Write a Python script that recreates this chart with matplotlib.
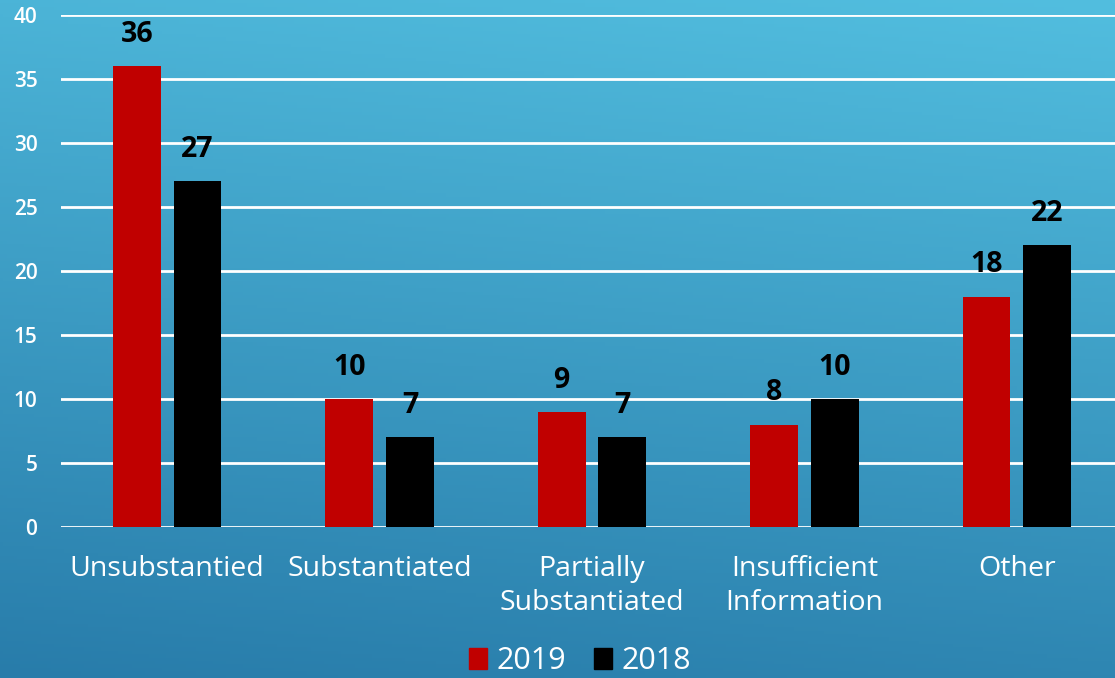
import numpy as np
import matplotlib
matplotlib.use("Agg")
import matplotlib.pyplot as plt
from matplotlib.patches import Patch

categories = ["Unsubstantied", "Substantiated", "Partially\nSubstantiated",
              "Insufficient\nInformation", "Other"]
values_2019 = [36, 10, 9, 8, 18]
values_2018 = [27, 7, 7, 10, 22]
yticks = [0, 5, 10, 15, 20, 25, 30, 35, 40]

plt.rcParams['font.family'] = ['Open Sans', 'DejaVu Sans']

fig = plt.figure(figsize=(11.15, 6.78), dpi=100)

# gradient background
bg = fig.add_axes([0, 0, 1, 1], zorder=0)
h, w = 200, 330
yy, xx = np.mgrid[0:h, 0:w]
t = 0.85 * (yy / (h - 1)) + 0.15 * (1 - xx / (w - 1))
top = np.array([82, 190, 223]) / 255
bot = np.array([40, 124, 170]) / 255
img = top[None, None, :] * (1 - t[..., None]) + bot[None, None, :] * t[..., None]
bg.imshow(img, aspect='auto', extent=[0, 1, 0, 1], origin='upper')
bg.axis('off')

ax = fig.add_axes([61 / 1115, 1 - 527 / 678, 1062 / 1115, (527 - 15) / 678], zorder=1)
ax.patch.set_alpha(0)

x = np.arange(len(categories))
bw = 0.225
off = 0.143
b1 = ax.bar(x - off, values_2019, bw, color='#C00000', zorder=3)
b2 = ax.bar(x + off, values_2018, bw, color='#000000', zorder=3)

for bars, vals in ((b1, values_2019), (b2, values_2018)):
    for r, v in zip(bars, vals):
        ax.text(r.get_x() + r.get_width() / 2, v + 1.35, str(v), ha='center', va='bottom',
                fontsize=20.5, fontweight='bold', color='black')

ax.set_xlim(-0.5, 4.5)
ax.set_ylim(0, 40)
ax.set_yticks(yticks)
ax.set_yticklabels([str(v) for v in yticks], fontsize=15, color='white', fontweight='semibold')
ax.yaxis.grid(True, color='white', linewidth=2, zorder=0)
ax.set_axisbelow(True)
ax.tick_params(axis='y', length=0, pad=17)
ax.tick_params(axis='x', length=0, pad=20)
ax.set_xticks(x)
ax.set_xticklabels(categories, fontsize=20.5, color='white', linespacing=1.3, va='top')
for s in ax.spines.values():
    s.set_visible(False)

handles = [Patch(color='#C00000', label='2019'), Patch(color='#000000', label='2018')]
leg = fig.legend(handles=handles, loc='center', bbox_to_anchor=(580 / 1115, 1 - 661 / 678),
                 ncol=2, frameon=False, fontsize=22, handlelength=0.6, handleheight=0.7,
                 handletextpad=0.3, columnspacing=0.9)
for t_ in leg.get_texts():
    t_.set_color('white')

fig.savefig('out.png', dpi=100)
